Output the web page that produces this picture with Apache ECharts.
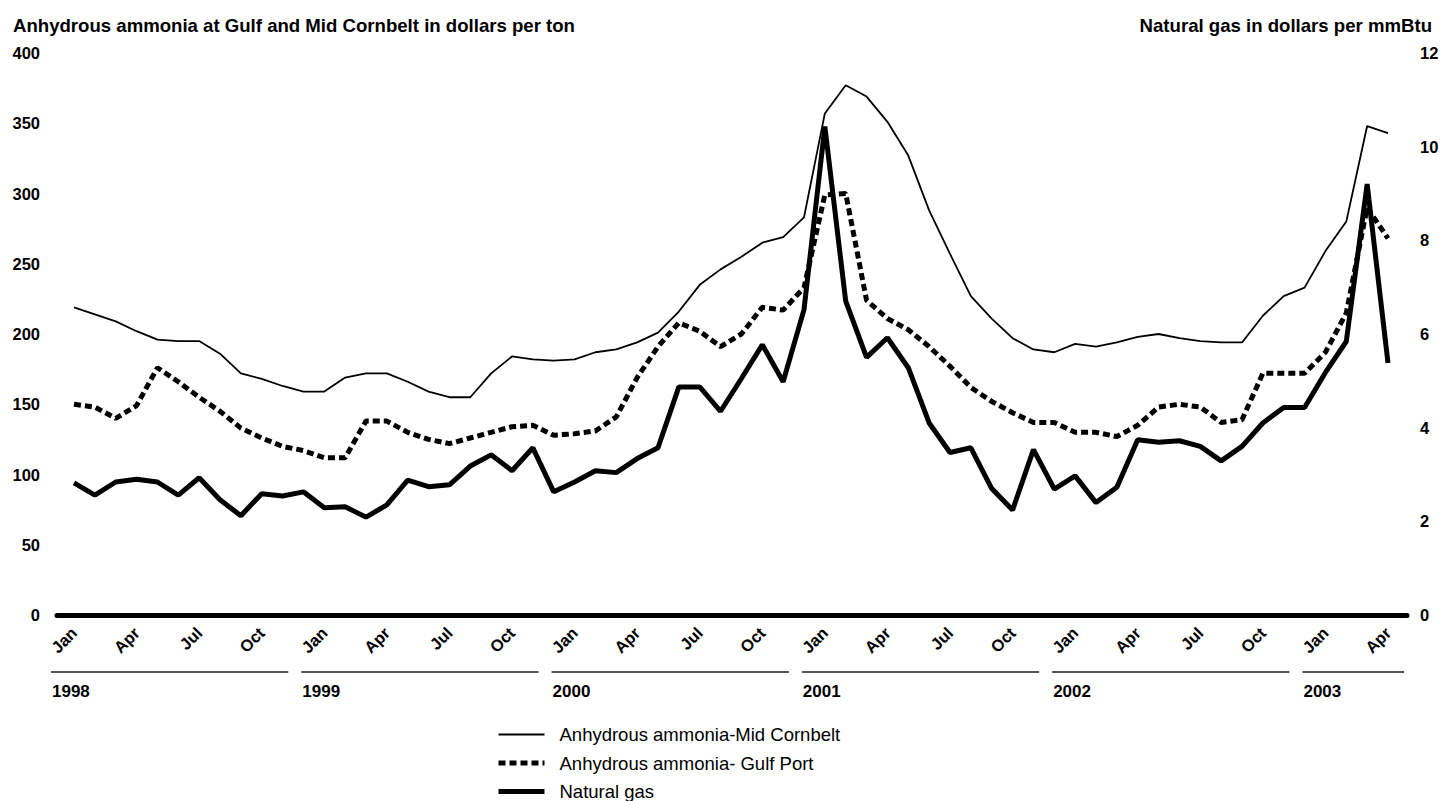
<!DOCTYPE html>
<html>
<head>
<meta charset="utf-8">
<script src="https://cdn.jsdelivr.net/npm/echarts@6/dist/echarts.min.js"></script>
<style>
html,body{margin:0;padding:0;background:#fff;}
#main{width:1445px;height:801px;}
</style>
</head>
<body>
<div id="main"></div>
<script>
const monthNames = ['Jan','Feb','Mar','Apr','May','Jun','Jul','Aug','Sep','Oct','Nov','Dec'];
const years = ['1998','1999','2000','2001','2002','2003'];
const months = [];
years.forEach(function (y, yi) {
  const n = (yi === years.length - 1) ? 4 : 12;
  for (let m = 0; m < n; m++) months.push(monthNames[m]);
});

const midCornbelt = [219,214,209,202,196,195,195,186,172,168,163,159,
  159,169,172,172,166,159,155,155,172,184,182,181,
  182,187,189,194,201,216,235,246,255,265,269,283,
  357,377,369,351,327,288,257,227,211,197,189,187,
  193,191,194,198,200,197,195,194,194,213,227,233,
  259,280,348,343];

const gulfPort = [150,148,140,149,176,166,155,145,133,126,120,117,
  112,112,138,138,130,125,122,126,130,134,135,128,
  129,131,141,169,191,208,202,191,200,219,217,233,
  299,300,224,211,203,191,177,162,152,144,137,137,
  130,130,127,135,148,150,148,137,139,172,172,172,
  187,215,290,268];

const naturalGas = [2.82,2.56,2.84,2.90,2.84,2.56,2.93,2.46,2.12,2.59,2.54,2.63,
  2.29,2.31,2.09,2.35,2.88,2.74,2.78,3.18,3.42,3.08,3.57,2.63,
  2.84,3.08,3.04,3.34,3.57,4.87,4.87,4.35,5.05,5.77,4.98,6.52,
  10.43,6.70,5.50,5.92,5.28,4.10,3.47,3.57,2.70,2.24,3.53,2.69,
  2.97,2.40,2.73,3.74,3.69,3.72,3.60,3.29,3.60,4.10,4.43,4.43,
  5.18,5.84,9.20,5.38];

const leftTicks = {min: 0, max: 400, interval: 50};
const rightTicks = {min: 0, max: 12, interval: 2};

const seriesNames = ['Anhydrous ammonia-Mid Cornbelt', 'Anhydrous ammonia- Gulf Port', 'Natural gas'];

const FONT = '"Liberation Sans", Arial, Helvetica, sans-serif';
const chart = echarts.init(document.getElementById('main'), null, {renderer: 'svg'});

const lineStyles = [
  {color: '#000', width: 1.8},
  {color: '#000', width: 5, type: [7, 4], cap: 'butt'},
  {color: '#000', width: 5}
];

const option = {
  animation: false,
  backgroundColor: '#fff',
  textStyle: {fontFamily: FONT, color: '#000'},
  title: [
    {text: 'Anhydrous ammonia at Gulf and Mid Cornbelt in dollars per ton', left: 8, top: 11,
     textStyle: {fontFamily: FONT, fontSize: 18.6, fontWeight: 'bold', color: '#000'}},
    {text: 'Natural gas in dollars per mmBtu', right: 8, top: 11,
     textStyle: {fontFamily: FONT, fontSize: 18.6, fontWeight: 'bold', color: '#000'}}
  ],
  grid: [
    {left: 74, right: 57, top: 53, bottom: 186},
    {left: 57, right: 38, top: 53, bottom: 186}
  ],
  xAxis: [
    {gridIndex: 0, type: 'category', data: months, boundaryGap: false,
     axisLine: {show: false}, axisTick: {show: false}, splitLine: {show: false},
     axisLabel: {interval: 2, rotate: 45, fontFamily: FONT, fontSize: 16.5, fontWeight: 'bold', color: '#000', margin: 15}},
    {gridIndex: 1, type: 'value', min: 0, max: 1,
     axisLine: {show: true, onZero: false, lineStyle: {color: '#000', width: 5}},
     axisTick: {show: false}, axisLabel: {show: false}, splitLine: {show: false}}
  ],
  yAxis: [
    {gridIndex: 0, type: 'value', position: 'left', min: leftTicks.min, max: leftTicks.max, interval: leftTicks.interval,
     axisLine: {show: false}, axisTick: {show: false}, splitLine: {show: false},
     axisLabel: {fontFamily: FONT, fontSize: 16.5, fontWeight: 'bold', color: '#000', margin: 34}},
    {gridIndex: 0, type: 'value', position: 'right', min: rightTicks.min, max: rightTicks.max, interval: rightTicks.interval,
     axisLine: {show: false}, axisTick: {show: false}, splitLine: {show: false},
     axisLabel: {fontFamily: FONT, fontSize: 16.5, fontWeight: 'bold', color: '#000', margin: 32}},
    {gridIndex: 1, type: 'value', min: 0, max: 1, show: false}
  ],
  legend: {
    orient: 'vertical', left: 491, top: 720, height: 120,
    itemWidth: 46, itemHeight: 17, itemGap: 9.5,
    itemStyle: {opacity: 0},
    textStyle: {fontFamily: FONT, fontSize: 18.5, color: '#000', padding: [0, 0, 0, 10]},
    data: seriesNames.map(function (n, i) { return {name: n, lineStyle: lineStyles[i]}; })
  },
  series: [
    {name: seriesNames[0], type: 'line', xAxisIndex: 0, yAxisIndex: 0, data: midCornbelt,
     symbol: 'none', lineStyle: lineStyles[0], itemStyle: {color: '#000'}},
    {name: seriesNames[1], type: 'line', xAxisIndex: 0, yAxisIndex: 0, data: gulfPort,
     symbol: 'none', lineStyle: lineStyles[1], itemStyle: {color: '#000'}},
    {name: seriesNames[2], type: 'line', xAxisIndex: 0, yAxisIndex: 1, data: naturalGas,
     symbol: 'none', lineStyle: lineStyles[2], itemStyle: {color: '#000'}}
  ]
};
chart.setOption(option);

// Year grouping lines and labels under the month axis, positioned from the axis itself
const baseY = chart.convertToPixel({yAxisIndex: 0}, 0);
const lastX = chart.convertToPixel({xAxisIndex: 0}, months.length - 1);
const elements = [];
years.forEach(function (y, yi) {
  const janX = chart.convertToPixel({xAxisIndex: 0}, yi * 12);
  const startX = janX - 23;
  let endX;
  if (yi < years.length - 1) {
    endX = chart.convertToPixel({xAxisIndex: 0}, (yi + 1) * 12) - 36;
  } else {
    endX = lastX + 16;
  }
  elements.push({type: 'line', silent: true,
    shape: {x1: startX, y1: baseY + 57, x2: endX, y2: baseY + 57},
    style: {stroke: '#555', lineWidth: 2}});
  elements.push({type: 'text', silent: true, x: startX + 1, y: baseY + 68,
    style: {text: y, fill: '#000', font: 'bold 17px ' + FONT, textAlign: 'left', textVerticalAlign: 'top'}});
});
chart.setOption({graphic: {elements: elements}});
</script>
</body>
</html>
